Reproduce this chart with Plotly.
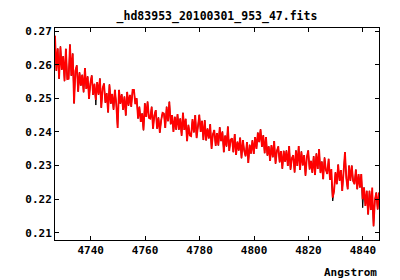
import numpy as np
import plotly.graph_objects as go

# Wavelength grid of the spectrum (start, step in Angstrom)
wl_start = 4726.9
wl_step = 0.5

# Flux values (red spectrum)
flux_red = [
    0.2686, 0.2582, 0.2648, 0.2558, 0.2654, 0.2585, 0.2625, 0.2551, 0.2647, 0.2557,
    0.2558, 0.2660, 0.2567, 0.2633, 0.2485, 0.2582, 0.2598, 0.2520, 0.2577, 0.2538,
    0.2570, 0.2518, 0.2590, 0.2528, 0.2565, 0.2498, 0.2545, 0.2568, 0.2510, 0.2543,
    0.2495, 0.2548, 0.2511, 0.2559, 0.2472, 0.2530, 0.2544, 0.2487, 0.2515, 0.2458,
    0.2541, 0.2484, 0.2513, 0.2466, 0.2525, 0.2483, 0.2412, 0.2525, 0.2484, 0.2512,
    0.2466, 0.2505, 0.2449, 0.2519, 0.2478, 0.2510, 0.2475, 0.2525, 0.2525, 0.2483,
    0.2500, 0.2440, 0.2475, 0.2430, 0.2455, 0.2405, 0.2485, 0.2445, 0.2490, 0.2442,
    0.2440, 0.2475, 0.2410, 0.2450, 0.2465, 0.2410, 0.2443, 0.2398, 0.2435, 0.2457,
    0.2455, 0.2412, 0.2475, 0.2432, 0.2490, 0.2423, 0.2450, 0.2400, 0.2445, 0.2407,
    0.2453, 0.2407, 0.2440, 0.2389, 0.2457, 0.2406, 0.2439, 0.2373, 0.2421, 0.2390,
    0.2388, 0.2438, 0.2399, 0.2450, 0.2382, 0.2429, 0.2451, 0.2400, 0.2433, 0.2376,
    0.2435, 0.2375, 0.2410, 0.2381, 0.2423, 0.2350, 0.2393, 0.2406, 0.2359, 0.2397,
    0.2360, 0.2414, 0.2373, 0.2401, 0.2340, 0.2389, 0.2357, 0.2416, 0.2344, 0.2377,
    0.2381, 0.2340, 0.2394, 0.2332, 0.2371, 0.2345, 0.2383, 0.2322, 0.2376, 0.2344,
    0.2328, 0.2370, 0.2308, 0.2362, 0.2336, 0.2375, 0.2335, 0.2385, 0.2350, 0.2398,
    0.2370, 0.2408, 0.2356, 0.2390, 0.2337, 0.2385, 0.2330, 0.2357, 0.2314, 0.2361,
    0.2325, 0.2373, 0.2306, 0.2344, 0.2357, 0.2310, 0.2343, 0.2291, 0.2344, 0.2312,
    0.2345, 0.2299, 0.2358, 0.2288, 0.2322, 0.2331, 0.2280, 0.2345, 0.2299, 0.2358,
    0.2287, 0.2342, 0.2301, 0.2331, 0.2270, 0.2325, 0.2345, 0.2289, 0.2314, 0.2279,
    0.2328, 0.2272, 0.2336, 0.2290, 0.2349, 0.2278, 0.2312, 0.2260, 0.2324, 0.2287,
    0.2275, 0.2320, 0.2258, 0.2290, 0.2205, 0.2225, 0.2280, 0.2245, 0.2303, 0.2255,
    0.2287, 0.2225, 0.2273, 0.2340, 0.2262, 0.2230, 0.2300, 0.2255, 0.2300, 0.2254,
    0.2245, 0.2288, 0.2230, 0.2275, 0.2235, 0.2275, 0.2200, 0.2235, 0.2180, 0.2225,
    0.2155, 0.2225, 0.2168, 0.2235, 0.2120, 0.2198, 0.2220, 0.2170, 0.2220,
]

# Black spectrum: same as red except where it peeks out
black_idx = [30, 203, 204, 226, 233]
black_val = [0.2480, 0.2262, 0.2195, 0.2175, 0.2205]

wl = wl_start + wl_step * np.arange(len(flux_red))
flux_black = list(flux_red)
for i, v in zip(black_idx, black_val):
    flux_black[i] = v

x_ticks = [4740, 4760, 4780, 4800, 4820, 4840]
y_ticks = [0.21, 0.22, 0.23, 0.24, 0.25, 0.26, 0.27]

font_family = "DejaVu Sans Mono"

fig = go.Figure()
fig.add_trace(go.Scatter(x=wl, y=flux_black, mode="lines",
                         line=dict(color="#000000", width=1), showlegend=False))
fig.add_trace(go.Scatter(x=wl, y=flux_red, mode="lines",
                         line=dict(color="#ff0000", width=1.8), showlegend=False))

axis_common = dict(showline=True, linecolor="black", linewidth=1, mirror="allticks",
                   ticks="inside", ticklen=4, tickcolor="black", showgrid=False,
                   zeroline=False,
                   tickfont=dict(family=font_family, size=11, color="black", weight="bold"))

fig.update_xaxes(range=[4726.9, 4845.9], tickvals=x_ticks,
                 ticktext=[str(t) for t in x_ticks], **axis_common)
fig.update_yaxes(range=[0.2079, 0.2709], tickvals=y_ticks,
                 ticktext=[f"{t:.2f}" for t in y_ticks], **axis_common)

fig.update_layout(
    width=400, height=280,
    margin=dict(l=55, r=21, t=28, b=40),
    paper_bgcolor="white", plot_bgcolor="white",
    title=dict(text="_hd83953_20100301_953_47.fits", x=0.5425, xanchor="center",
               y=1 - 16 / 280, yanchor="middle",
               font=dict(family=font_family, size=11.5, color="black", weight="bold")),
    annotations=[dict(text="Angstrom", xref="paper", yref="paper", x=1.0, y=-0.151,
                      xanchor="right", yanchor="middle", showarrow=False,
                      font=dict(family=font_family, size=11, color="black", weight="bold"))],
)

fig.write_html("out.html")
